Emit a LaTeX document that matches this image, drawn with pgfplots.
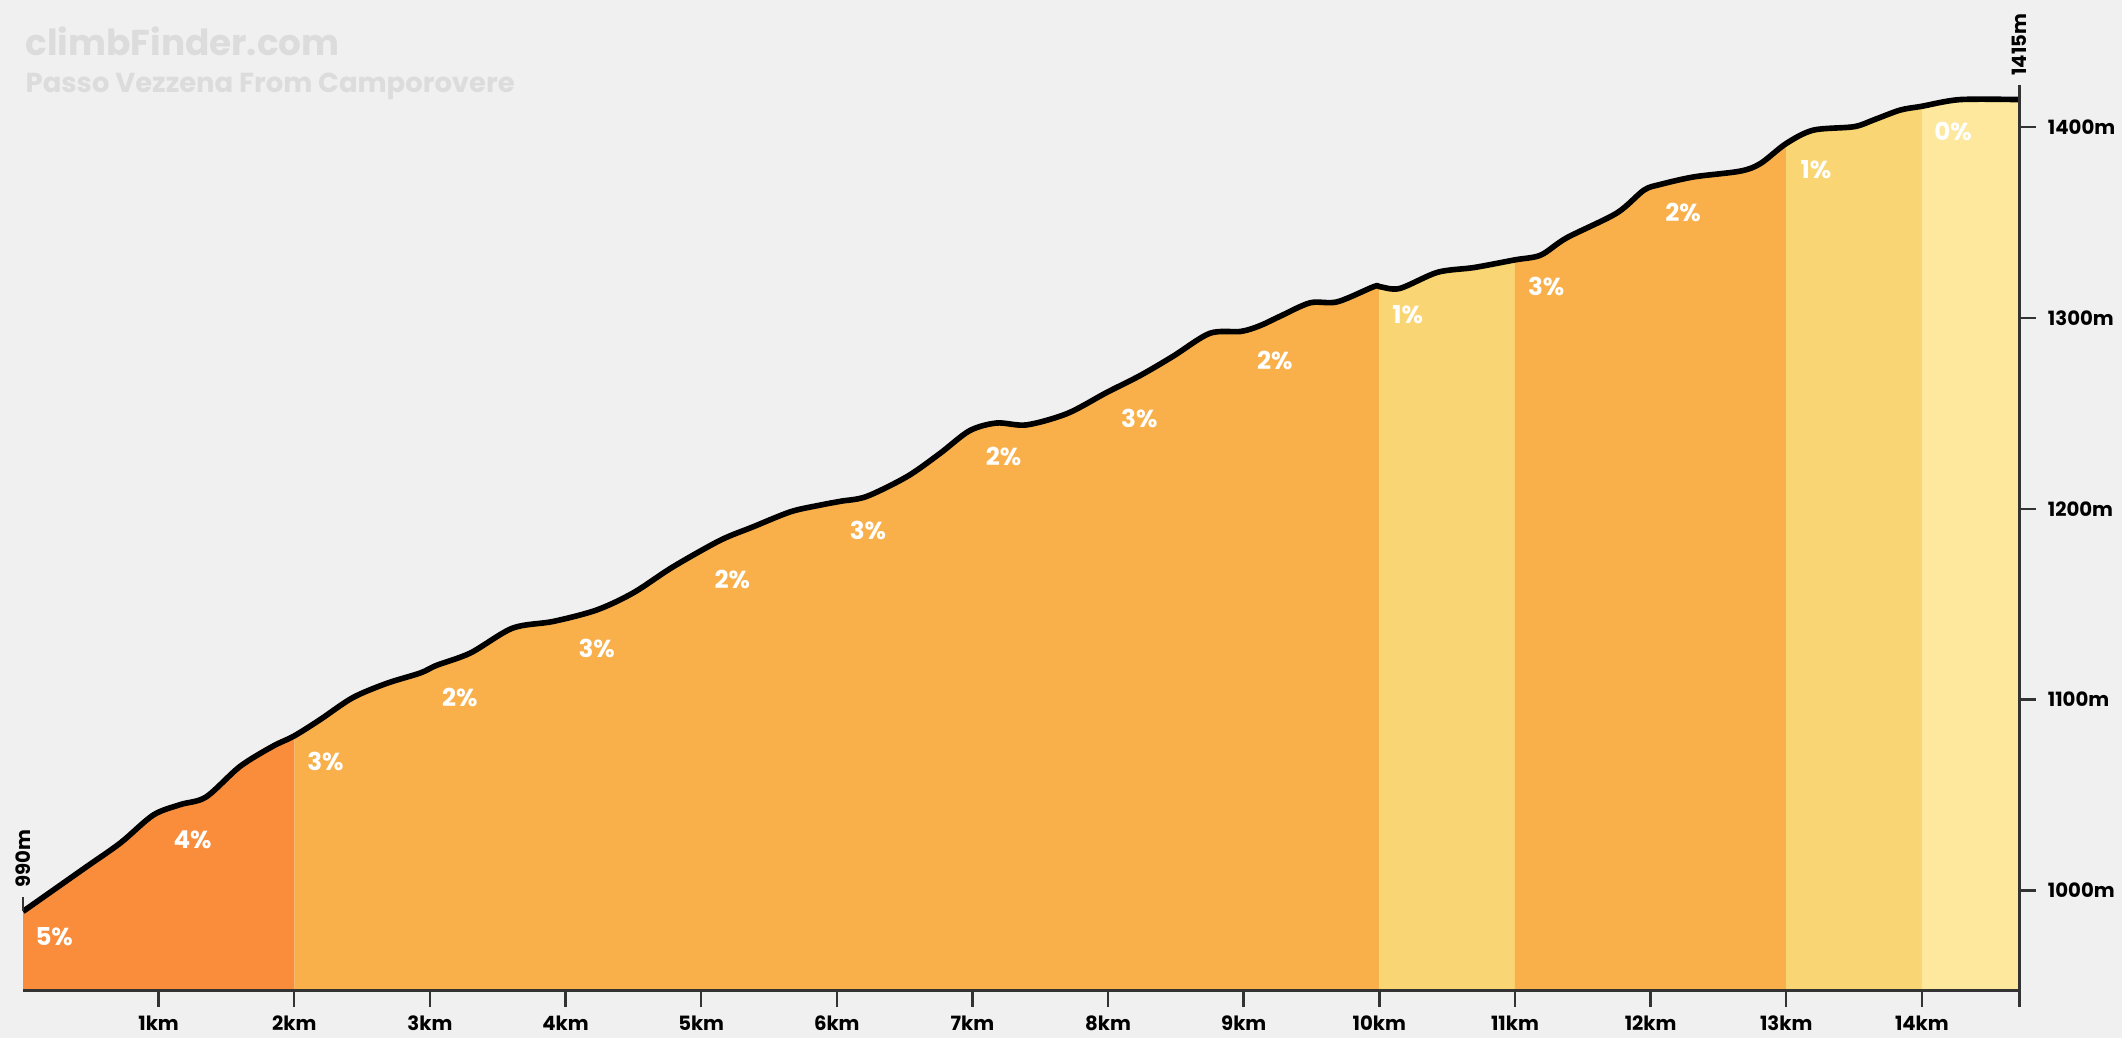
\documentclass[border=0pt]{standalone}
\usepackage{pgfplots}
\pgfplotsset{compat=1.18}
\usepackage{pgfplotstable}
\usepackage{fontspec}
\setmainfont{Poppins}

\definecolor{bg}{HTML}{F0F0F0}
\definecolor{c5}{HTML}{F98D3B}
\definecolor{c3}{HTML}{F9AF4A}
\definecolor{c1}{HTML}{F9D573}
\definecolor{c0}{HTML}{FDE89D}
\definecolor{axisgray}{HTML}{333333}
\definecolor{titlegray}{HTML}{DCDCDC}

% elevation profile (km, m)
\pgfplotstableread{
km ele
0 989
0.22 1000
0.47 1012.5
0.72 1025
0.96 1039.5
1.16 1045
1.35 1049
1.60 1065
1.84 1075.5
2.0 1081
2.19 1089.5
2.43 1101
2.68 1108.5
2.93 1114
3.05 1118
3.30 1124.5
3.61 1137.5
3.91 1141
4.23 1147
4.50 1156
4.79 1169.5
5.14 1183.5
5.38 1190.5
5.66 1198.5
5.88 1202
6.03 1204
6.22 1206.5
6.52 1217
6.76 1229
6.98 1241
7.18 1245
7.40 1244
7.70 1250
7.99 1261
8.24 1270
8.48 1280
8.75 1292
8.98 1293
9.12 1296
9.27 1301
9.49 1308
9.69 1308.5
9.96 1316.5
10.0 1316.5
10.15 1315.5
10.43 1324
10.70 1326.5
11.0 1330.5
11.19 1333
11.38 1342
11.75 1355
11.95 1367
12.07 1370
12.32 1374
12.66 1377
12.81 1381
13.0 1391.5
13.20 1398.5
13.50 1400.3
13.65 1404
13.84 1409
14.0 1411
14.28 1414.5
14.72 1414.5
}\profile

% gradient label per km
\pgfplotstableread{
km ele grad
0.23 976 5
1.25 1026.3 4
2.23 1067.4 3
3.22 1101.4 2
4.23 1127 3
5.23 1163.2 2
6.23 1188.7 3
7.23 1227.7 2
8.23 1247.5 3
9.23 1278 2
10.21 1302 1
11.23 1316.4 3
12.24 1355.4 2
13.22 1378 1
14.23 1397.9 0
}\grads

\begin{document}
\begin{tikzpicture}
\path[use as bounding box, fill=bg] (-0.23cm,-0.474cm) rectangle (20.99cm,9.906cm);

\node[anchor=base west, inner sep=0pt, text=titlegray, font=\fontsize{10.2}{12}\selectfont\bfseries]
  at (0.02cm,9.356cm) {climbFinder.com};
\node[anchor=base west, inner sep=0pt, text=titlegray, font=\fontsize{7.8}{9}\selectfont\bfseries]
  at (0.02cm,8.986cm) {Passo Vezzena From Camporovere};

\begin{axis}[
  scale only axis, width=19.965cm, height=9.906cm,
  xmin=0, xmax=14.72, ymin=947.5, ymax=1466.7,
  axis x line*=bottom, axis y line*=right,
  axis line style={-, axisgray, line width=0.9pt},
  y axis line style={draw=none},
  xtick={1,...,14}, extra x ticks={14.72}, extra x tick labels={},
  ytick={1000,1100,...,1400},
  xticklabel={\pgfmathprintnumber{\tick}km},
  yticklabel={\pgfmathprintnumber{\tick}m},
  /pgf/number format/1000 sep={},
  /pgf/number format/assume math mode=true,
  tick align=outside, major tick length=0.16cm,
  tick style={axisgray, line width=0.7pt},
  ticklabel style={font=\fontsize{5.6}{7}\selectfont\bfseries, text=black},
  x tick label style={yshift=0.03cm},
  axis on top,
]
\addplot[draw=none, fill=c5, smooth, restrict x to domain=0:2] table {\profile} \closedcycle;
\addplot[draw=none, fill=c3, smooth, restrict x to domain=2:10] table {\profile} \closedcycle;
\addplot[draw=none, fill=c1, smooth, restrict x to domain=10:11] table {\profile} \closedcycle;
\addplot[draw=none, fill=c3, smooth, restrict x to domain=11:13] table {\profile} \closedcycle;
\addplot[draw=none, fill=c1, smooth, restrict x to domain=13:14] table {\profile} \closedcycle;
\addplot[draw=none, fill=c0, smooth, restrict x to domain=14:14.72] table {\profile} \closedcycle;

\addplot[black, line width=1.6pt, smooth] table {\profile};

\addplot[draw=none, mark=none, point meta=explicit,
  nodes near coords={\pgfmathprintnumber{\pgfplotspointmeta}\%},
  every node near coord/.style={anchor=center, text=white, font=\fontsize{7}{8}\selectfont\bfseries}]
  table[x=km, y=ele, meta=grad] {\grads};

\coordinate (rb) at (axis cs:14.72,947.5);
\coordinate (rt) at (axis cs:14.72,1422);
\coordinate (l0) at (axis cs:0,989);
\coordinate (l1) at (axis cs:0,996.6);
\end{axis}

\draw[axisgray, line width=0.9pt] (rb) -- (rt);
\draw[axisgray, line width=0.7pt] (l0) -- (l1);
\node[rotate=90, anchor=west, inner sep=0pt, font=\fontsize{5.6}{7}\selectfont\bfseries]
  at ([yshift=0.09cm]rt) {1415m};
\node[rotate=90, anchor=west, inner sep=0pt, font=\fontsize{5.6}{7}\selectfont\bfseries]
  at ([yshift=0.09cm]l1) {990m};
\end{tikzpicture}
\end{document}
